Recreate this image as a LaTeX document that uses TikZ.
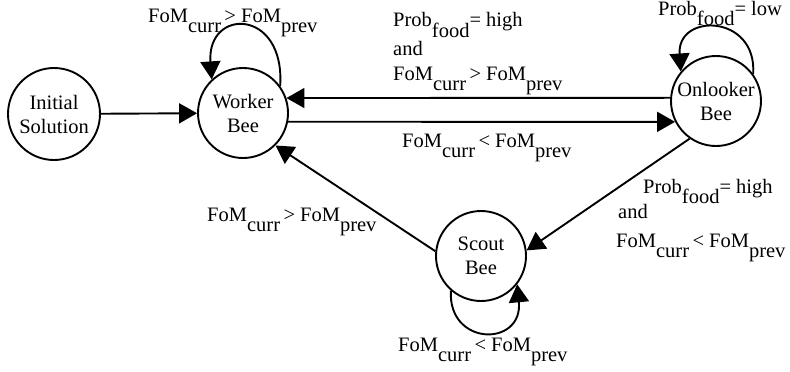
\documentclass[tikz,border=0pt]{standalone}
\usepackage{fontspec}
\setmainfont{Liberation Serif}
\usetikzlibrary{arrows.meta}
% subscripts are set at full size, only dropped below the baseline
\newcommand\lowsub[1]{\raisebox{-0.5em}{#1}}
\begin{document}
\begin{tikzpicture}[x=1pt,y=1pt,
  every node/.style={font=\fontsize{20.5}{24}\selectfont},
  state/.style={circle,draw,line width=1.9pt,inner sep=0pt,minimum size=90pt,align=center},
  flow/.style={line width=1.9pt,-{Triangle[length=18pt,width=20pt]}},
  cond/.style={anchor=base west,inner sep=0pt}]
\useasboundingbox (0,0) rectangle (790,-372);

% states
\node[state,minimum size=92pt] (init) at (54,-114) {Initial\\Solution};
\node[state] (worker) at (243,-113) {Worker\\Bee};
\node[state] (onlook) at (716,-101) {Onlooker\\Bee};
\node[state] (scout) at (481,-256) {Scout\\Bee};

% transitions
\draw[flow] (init) -- (worker);
\draw[flow] (onlook.176) -- (worker.19);
\draw[flow] (worker.-11) -- (onlook.207.5);
\draw[flow] (scout.174) -- (worker.-45);
\draw[flow] (onlook.235) -- (scout.7);

% self loops
\draw[flow] (worker.36) .. controls +(5,78) and +(-5,72) .. (worker.133);
\draw[flow] (onlook.36) .. controls +(4,60) and +(-4,59) .. (onlook.140);
\draw[flow] (scout.229) .. controls +(-3,-56) and +(6,-63) .. (scout.322);

% conditions
\node[cond] (cw) at (148,-22) {FoM\lowsub{curr}\,> FoM\lowsub{prev}};
\node[cond] (cuA) at (393,-27) {Prob\lowsub{food}= high};
\node[cond] (cuB) at (393,-55) {and};
\node[cond] (cuC) at (393,-80) {FoM\lowsub{curr}\,> FoM\lowsub{prev}};
\node[cond] (cl) at (402,-147) {FoM\lowsub{curr}\,< FoM\lowsub{prev}};
\node[cond] (co) at (658,-15) {Prob\lowsub{food}= low};
\node[cond] (crA) at (643,-193) {Prob\lowsub{food}= high};
\node[cond] (crB) at (618,-218) {and};
\node[cond] (crC) at (616,-247) {FoM\lowsub{curr}\,< FoM\lowsub{prev}};
\node[cond] (cs) at (207,-221) {FoM\lowsub{curr}\,> FoM\lowsub{prev}};
\node[cond] (cb) at (398,-351) {FoM\lowsub{curr}\,< FoM\lowsub{prev}};
\end{tikzpicture}
\end{document}
